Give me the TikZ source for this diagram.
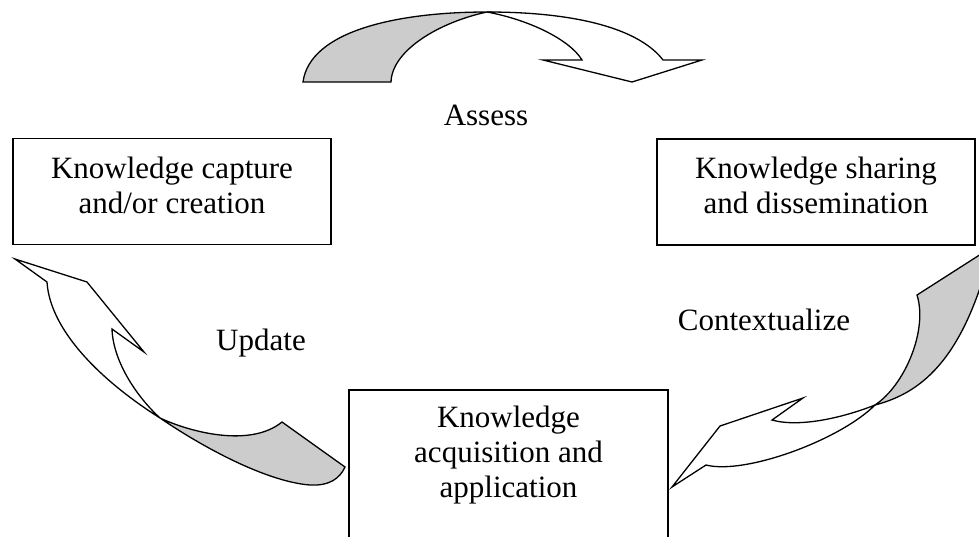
\documentclass[tikz,border=0pt]{standalone}
\usepackage{fontspec}
\setmainfont{Liberation Serif}
\definecolor{ribbongray}{RGB}{204,204,204}
\begin{document}
\begin{tikzpicture}[x=1pt,y=-1pt,
  box/.style={draw, line width=1.5pt, inner sep=0pt, minimum width=318pt, minimum height=106pt},
  boxtext/.style={align=center, font=\fontsize{31}{35}\selectfont, inner sep=0pt, anchor=north},
  cyclelabel/.style={font=\fontsize{31}{35}\selectfont, inner sep=0pt, anchor=base},
  ribbonfront/.style={draw, line width=1.3pt, fill=white, line join=miter},
  ribbonback/.style={draw, line width=1.3pt, fill=ribbongray, line join=miter},
]
\useasboundingbox (0,0) rectangle (979,536);

% the three stages
\node[box] (capture) at (172,191.5) {};
\node[boxtext] (capturetext) at (172,157) {Knowledge capture\\and/or creation};
\node[box] (sharing) at (816,192) {};
\node[boxtext] (sharingtext) at (816,157) {Knowledge sharing\\and dissemination};
\node[box, minimum width=319pt, minimum height=200pt, anchor=north] (acq) at (508.5,389) {};
\node[boxtext] (acqtext) at (508.5,406) {Knowledge\\acquisition and\\application};

% cycle labels
\node[cyclelabel] (assess) at (486,125) {Assess};
\node[cyclelabel] (update) at (261,350) {Update};
\node[cyclelabel] (context) at (764,330) {Contextualize};

% top ribbon arrow: capture -> sharing
\path[ribbonback] (303,82) .. controls (310,30) and (400,12) .. (487,12)
  .. controls (440,22) and (392,50) .. (391,82) -- cycle;
\path[ribbonfront] (487,12) .. controls (580,12) and (640,30) .. (663,60)
  -- (702,60) -- (632,82) -- (543,60) -- (582,60)
  .. controls (570,40) and (530,20) .. (487,12) -- cycle;

% right ribbon arrow: sharing -> acquisition
\path[ribbonback] (875,405) .. controls (905,385) and (928,330) .. (917,295)
  -- (992,247) .. controls (965,355) and (925,392) .. (875,405) -- cycle;
\path[ribbonfront] (772,420) -- (803,398) -- (720,426) -- (672,487) -- (706,465)
  .. controls (745,475) and (840,440) .. (875,405)
  .. controls (845,417) and (800,428) .. (772,420) -- cycle;

% left ribbon arrow: acquisition -> capture
\path[ribbonback] (160,418) .. controls (190,432) and (250,448) .. (282,422)
  -- (345,467) .. controls (340,478) and (330,486) .. (310,485)
  .. controls (270,482) and (210,452) .. (160,418) -- cycle;
\path[ribbonfront] (15,259) -- (87,282) -- (144,352) -- (112,329)
  .. controls (113,360) and (135,395) .. (160,418)
  .. controls (100,380) and (50,330) .. (47,282) -- cycle;
\end{tikzpicture}
\end{document}
